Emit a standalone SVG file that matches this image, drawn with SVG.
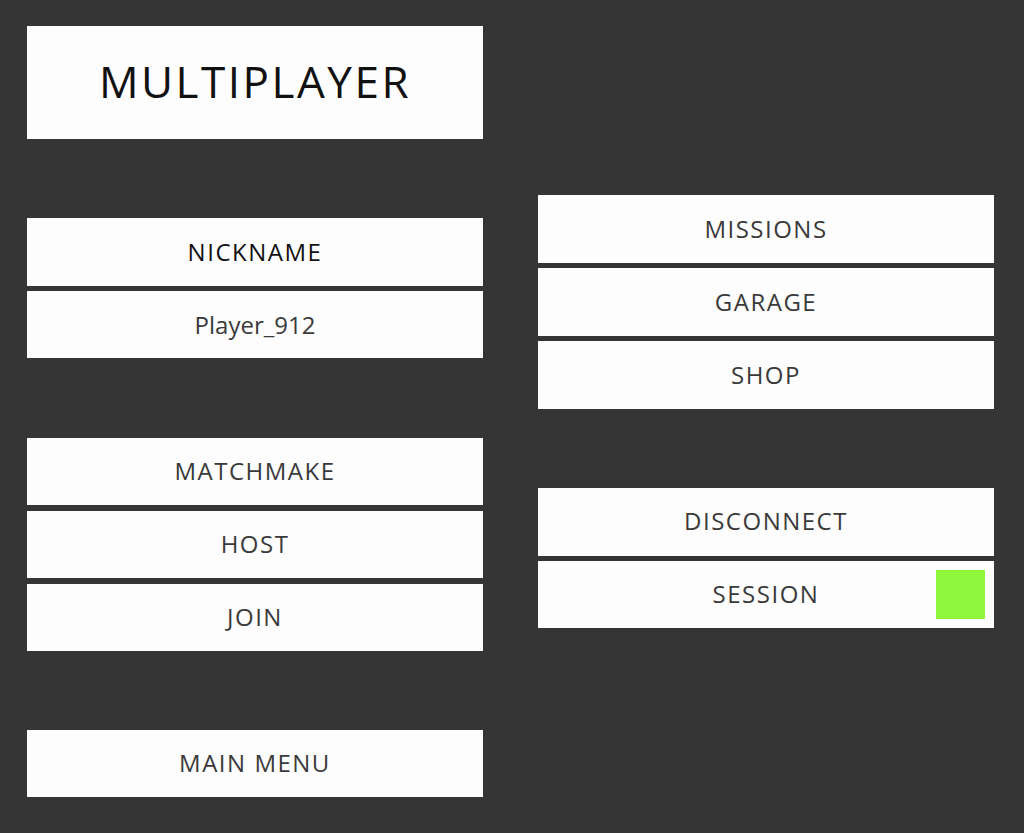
<svg xmlns="http://www.w3.org/2000/svg" width="1024" height="833" viewBox="0 0 1024 833">
<style>
.b{fill:#fdfdfd}
.t{font-family:"Open Sans","Liberation Sans",sans-serif;font-size:24px;fill:#3a3a3a;text-anchor:middle;letter-spacing:1.5px;font-weight:500}
</style>
<rect width="1024" height="833" fill="#353535"/>
<g id="title"><rect class="b" x="27" y="26" width="456" height="113"/><text x="255" y="98" text-anchor="middle" font-family="Open Sans, Liberation Sans, sans-serif" font-size="44" letter-spacing="2.5" fill="#111">MULTIPLAYER</text></g>
<g id="nickname"><rect class="b" x="27" y="218" width="456" height="68"/><text class="t" x="255" y="261" style="fill:#111">NICKNAME</text></g>
<g id="player"><rect class="b" x="27" y="291" width="456" height="67"/><text class="t" x="255" y="334" style="letter-spacing:0;font-weight:400">Player_912</text></g>
<g id="matchmake"><rect class="b" x="27" y="438" width="456" height="67"/><text class="t" x="255" y="480">MATCHMAKE</text></g>
<g id="host"><rect class="b" x="27" y="511" width="456" height="67"/><text class="t" x="255" y="553">HOST</text></g>
<g id="join"><rect class="b" x="27" y="584" width="456" height="67"/><text class="t" x="255" y="626">JOIN</text></g>
<g id="mainmenu"><rect class="b" x="27" y="730" width="456" height="67"/><text class="t" x="255" y="772">MAIN MENU</text></g>
<g id="missions"><rect class="b" x="538" y="195" width="456" height="68"/><text class="t" x="766" y="238">MISSIONS</text></g>
<g id="garage"><rect class="b" x="538" y="268" width="456" height="68"/><text class="t" x="766" y="311">GARAGE</text></g>
<g id="shop"><rect class="b" x="538" y="341" width="456" height="68"/><text class="t" x="766" y="384">SHOP</text></g>
<g id="disconnect"><rect class="b" x="538" y="488" width="456" height="68"/><text class="t" x="766" y="530">DISCONNECT</text></g>
<g id="session"><rect class="b" x="538" y="561" width="456" height="67"/><text class="t" x="766" y="603">SESSION</text><rect x="936" y="570" width="49" height="49" fill="#8ef63b"/></g>
<g id="connectors"/>
</svg>
